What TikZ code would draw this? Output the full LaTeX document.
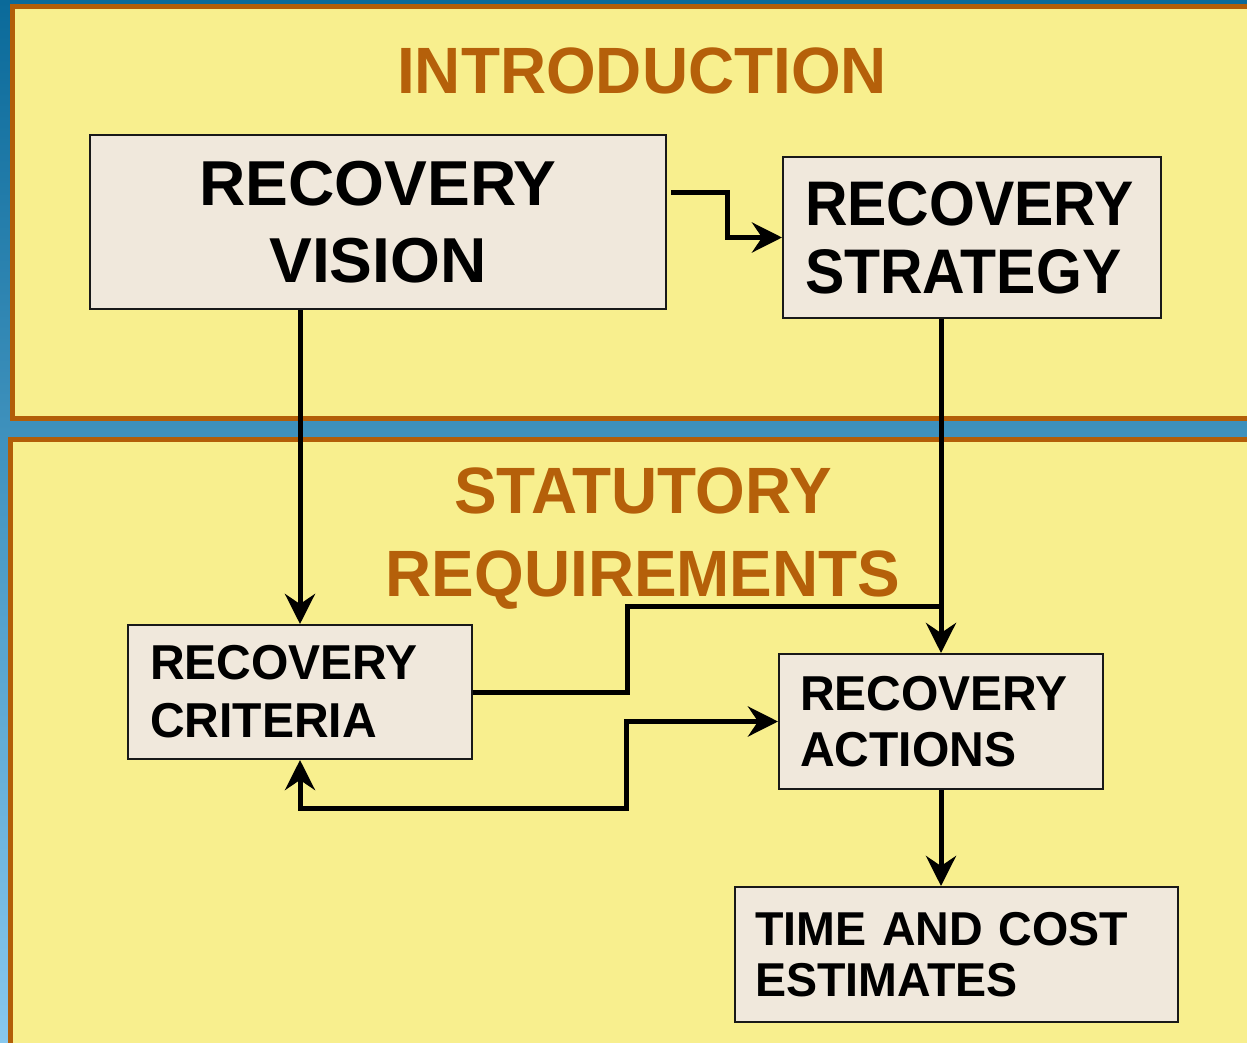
\documentclass[tikz,border=0pt]{standalone}
\usepackage{fontspec}
\setmainfont{Liberation Sans}
\newfontfamily\fA[FakeStretch=1.01]{Liberation Sans}
\newfontfamily\fB[FakeStretch=0.935]{Liberation Sans}
\newfontfamily\fC[FakeStretch=0.98]{Liberation Sans}
\newfontfamily\fD[FakeStretch=0.98]{Liberation Sans}
\newfontfamily\fT[FakeStretch=0.975]{Liberation Sans}
\usetikzlibrary{arrows.meta,calc}
\definecolor{panel}{RGB}{248,239,142}
\definecolor{rim}{RGB}{178,94,8}
\definecolor{boxfill}{RGB}{240,232,220}
\definecolor{titleor}{RGB}{181,96,10}
\definecolor{bgtop}{RGB}{10,106,154}
\definecolor{bgmid}{RGB}{52,144,186}
\definecolor{bgbot}{RGB}{136,200,238}
\definecolor{boxline}{RGB}{25,25,25}
\tikzset{
  panelbox/.style={draw=rim, line width=5pt, fill=panel},
  box/.style={draw=boxline, line width=2pt, fill=boxfill, inner ysep=4pt},
  title/.style={text=titleor, font=\fT\bfseries\fontsize{65.5}{70}\selectfont, inner sep=0pt},
  conn/.style={line width=5pt, -{Stealth[length=30pt,width=30pt,inset=10pt]}},
  conntwo/.style={line width=5pt, {Stealth[length=30pt,width=30pt,inset=10pt]}-{Stealth[length=30pt,width=30pt,inset=10pt]}},
  plain/.style={line width=5pt}
}
\begin{document}
\begin{tikzpicture}[x=1pt,y=-1pt]
\useasboundingbox (0,0) rectangle (1247,1043);
\shade[top color=bgtop, middle color=bgmid, bottom color=bgbot] (0,0) rectangle (1247,1043);
\draw[panelbox] (12.5,6.5) rectangle (1262,418.5);
\draw[panelbox] (10.5,439.5) rectangle (1262,1062);

\node[title, anchor=base] (intro) at (642,94) {INTRODUCTION};
\node[title, anchor=base] (stat1) at (643,513) {STATUTORY};
\node[title, anchor=base] (stat2) at (643,596) {REQUIREMENTS};

\node[box, minimum width=576, minimum height=174, align=center,
      font=\fA\bfseries\fontsize{63.5}{77}\selectfont] (vision) at (378,222) {RECOVERY\\VISION};
\node[box, minimum width=378, minimum height=161, text width=334, inner xsep=22, align=left,
      font=\fB\bfseries\fontsize{63}{68}\selectfont] (strategy) at (972,237.5) {RECOVERY\\STRATEGY};
\node[box, minimum width=344, minimum height=134, text width=300, inner xsep=22, align=left,
      font=\fC\bfseries\fontsize{49}{58}\selectfont] (criteria) at (300,692) {RECOVERY\\CRITERIA};
\node[box, minimum width=324, minimum height=135, text width=282, inner xsep=21, align=left,
      font=\fC\bfseries\fontsize{49}{56}\selectfont] (actions) at (941,721.5) {RECOVERY\\ACTIONS};
\node[box, minimum width=443, minimum height=135, text width=403, inner xsep=20, align=left,
      font=\fD\bfseries\fontsize{47.5}{51}\selectfont] (time) at (956.5,954.5) {TIME AND COST\\ESTIMATES};

\coordinate (merge) at ($(actions.north)+(0,-47)$);

\draw[conn] ($(vision.east)+(4,-29)$) -- ++(56,0) |- (strategy.west);
\draw[conn] (vision.south -| criteria.north) -- (criteria.north);
\draw[conn] (strategy.south -| actions.north) -- (actions.north);
\draw[plain] (criteria.east) -- ++(154,0) |- (merge);
\draw[conntwo] (criteria.south) -- ++(0,48) -- ++(326,0) |- (actions.west);
\draw[conn] (actions.south) -- (actions.south |- time.north);
\end{tikzpicture}
\end{document}
